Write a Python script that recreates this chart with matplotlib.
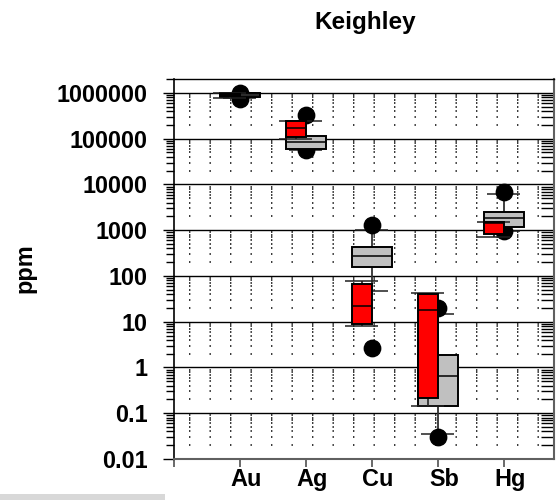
import numpy as np
import matplotlib
matplotlib.use('Agg')
import matplotlib.pyplot as plt
import matplotlib.ticker as mticker
import matplotlib.transforms as mtransforms
from matplotlib.patches import Rectangle

plt.rcParams['font.family'] = ['Liberation Sans', 'DejaVu Sans']
plt.rcParams['font.weight'] = 'bold'
plt.rcParams['lines.scale_dashes'] = False

elements = ['Au', 'Ag', 'Cu', 'Sb', 'Hg']

# red set: lower whisker, Q1, median, Q3, upper whisker (ppm)
red_low = [7.8e5, 9.9e4, 8.1, 0.144, 700]
red_q1 = [8.6e5, 1.09e5, 8.9, 0.215, 830]
red_med = [8.9e5, 1.72e5, 22, 18, 1450]
red_q3 = [9.6e5, 2.45e5, 67, 40.5, 1500]
red_high = [1.0e6, 2.45e5, 77, 42, 1500]

# grey set
grey_low = [7.8e5, 5.8e4, 47, 0.035, 964]
grey_q1 = [8.2e5, 6.0e4, 157, 0.144, 1180]
grey_med = [9.0e5, 8.5e4, 274, 0.65, 1850]
grey_q3 = [1.0e6, 1.15e5, 430, 1.88, 2500]
grey_high = [1.0e6, 2.45e5, 1000, 14.8, 6200]

# minimum and maximum points
point_min = [7.4e5, 5.7e4, 2.7, 0.030, 960]
point_max = [1.0e6, 3.3e5, 1300, 20, 6900]

ytick_values = [0.01, 0.1, 1, 10, 100, 1000, 10000, 100000, 1000000]
ytick_labels = ['0.01', '0.1', '1', '10', '100', '1000', '10000', '100000', '1000000']

FS = 16.9
BOX_W = 0.303
CAP_HW = 0.25


def draw_whiskers(ax, x, low, q1, q3, high, z):
	ax.vlines(x, low, q1, color='#303030', lw=1.3, zorder=z)
	ax.vlines(x, q3, high, color='#303030', lw=1.3, zorder=z)
	ax.hlines(low, x - CAP_HW, x + CAP_HW, color='#202020', lw=1.1, zorder=z)
	ax.hlines(high, x - CAP_HW, x + CAP_HW, color='#202020', lw=1.1, zorder=z)


def main():
	fig = plt.figure(figsize=(5.56, 5.0), dpi=100)
	ax = fig.add_axes([174 / 556, 41 / 500, 380 / 556, 380 / 500])
	ax.set_yscale('log')
	ax.set_ylim(0.01, 2.02e6)
	ax.set_xlim(-1, 4.76)

	pos = np.arange(len(elements))
	red_x = pos - BOX_W / 2
	grey_x = pos

	# grid: solid decades, dotted minors
	ax.set_axisbelow(True)
	ax.yaxis.grid(True, which='major', color='black', lw=1.0)
	ax.yaxis.grid(True, which='minor', color='black', lw=1.1,
		linestyle=(3.96, (1.0, 13.76)))
	minor_vals = [m * 10.0 ** k for k in range(-2, 7) for m in range(2, 10)]
	minor_vals = [v for v in minor_vals if v < 2e6]
	ax.hlines(minor_vals, 0.966, 1.0, color='black', lw=1.0,
		transform=ax.get_yaxis_transform(), zorder=0.5)

	# grey set whiskers, then points, then boxes
	draw_whiskers(ax, grey_x, grey_low, grey_q1, grey_q3, grey_high, 2)
	ax.plot(pos, point_min, 'o', color='black', ms=11.8, zorder=3)
	ax.plot(pos, point_max, 'o', color='black', ms=11.8, zorder=3)
	ax.bar(pos - BOX_W, np.array(grey_q3) - np.array(grey_q1), BOX_W * 2,
		bottom=grey_q1, align='edge', color='#c0c0c0', edgecolor='black',
		lw=1.4, zorder=4)
	ax.hlines(grey_med, pos - BOX_W, pos + BOX_W, color='black', lw=1.1, zorder=4)

	draw_whiskers(ax, red_x, red_low, red_q1, red_q3, red_high, 5)
	ax.bar(pos - BOX_W, np.array(red_q3) - np.array(red_q1), BOX_W,
		bottom=red_q1, align='edge', color='#ff0000', edgecolor='black',
		lw=1.4, zorder=6)
	ax.hlines(red_med, pos - BOX_W, pos, color='black', lw=1.1, zorder=6)

	# axes
	ax.set_yticks(ytick_values)
	ax.set_yticklabels(ytick_labels, fontsize=FS, fontweight='bold')
	ax.yaxis.set_minor_locator(mticker.LogLocator(base=10, subs=np.arange(2, 10), numticks=20))
	ax.yaxis.set_minor_formatter(mticker.NullFormatter())
	ax.tick_params(axis='y', which='major', direction='out', length=8, width=1.0, pad=10.8)
	ax.tick_params(axis='y', which='minor', direction='out', length=6, width=1.0)

	ax.set_xticks(np.arange(-1, len(elements)))
	ax.set_xticklabels([''] + elements, fontsize=FS, fontweight='bold')
	ax.tick_params(axis='x', direction='out', length=6, width=1.2, pad=0.5, color='#505050')
	shift = mtransforms.ScaledTranslation(6 / 100, 0, fig.dpi_scale_trans)
	for lab in ax.get_xticklabels():
		lab.set_transform(lab.get_transform() + shift)

	ax.spines['left'].set_color('black')
	ax.spines['left'].set_linewidth(1.2)
	ax.spines['top'].set_color('black')
	ax.spines['top'].set_linewidth(1.0)
	ax.spines['bottom'].set_color('#606060')
	ax.spines['bottom'].set_linewidth(1.5)
	ax.spines['right'].set_color('#606060')
	ax.spines['right'].set_linewidth(1.5)

	fig.text(365 / 556, 1 - 28.5 / 500, 'Keighley', ha='center', va='baseline',
		fontsize=17.5, fontweight='bold')
	fig.text(25 / 556, 1 - 268 / 500, 'ppm', rotation=90, ha='center', va='center',
		fontsize=FS, fontweight='bold')

	fig.add_artist(Rectangle((0, 0), 165 / 556, 6 / 500, transform=fig.transFigure,
		facecolor='#d8d8d8', edgecolor='none'))

	fig.savefig('out.png', dpi=100)


if __name__ == '__main__':
	main()
